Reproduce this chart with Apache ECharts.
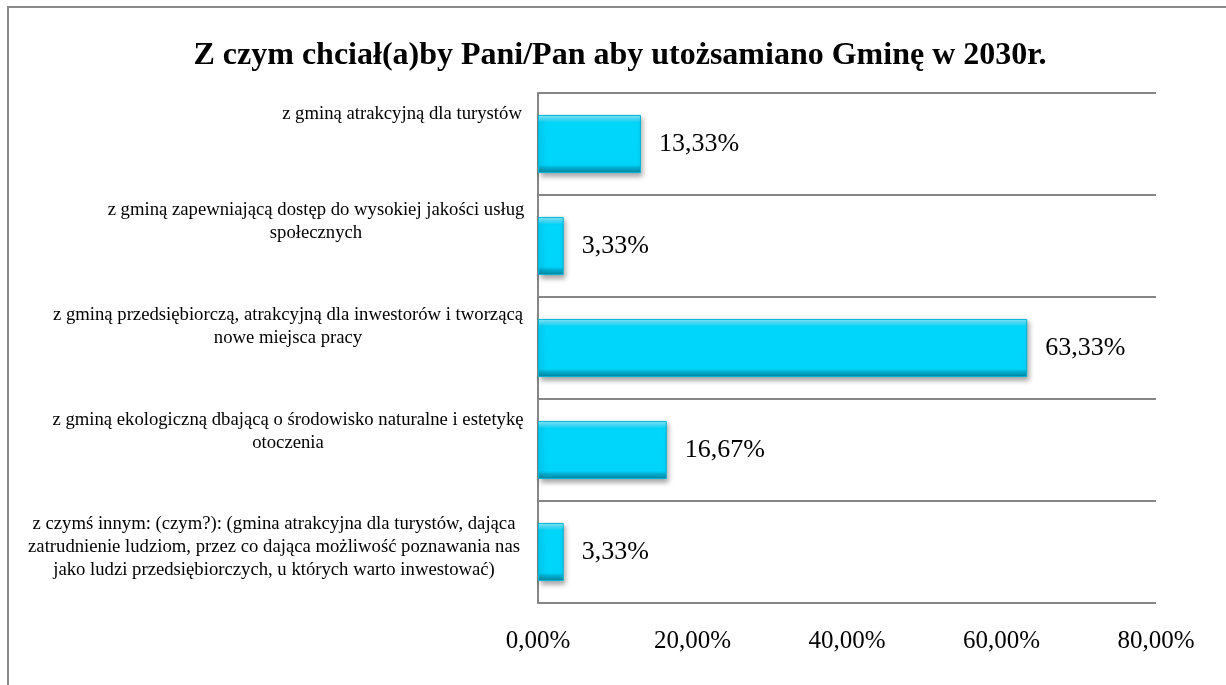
<!DOCTYPE html>
<html><head><meta charset="utf-8">
<script src="https://cdn.jsdelivr.net/npm/echarts@6/dist/echarts.min.js"></script>
<style>html,body{margin:0;padding:0;background:#fff}#c{width:1226px;height:685px}</style>
</head><body><div id="c"></div>
<script>
var titleText = 'Z czym chciał(a)by Pani/Pan aby utożsamiano Gminę w 2030r.';
var categories = [
  'z gminą atrakcyjną dla turystów',
  'z gminą zapewniającą dostęp do wysokiej jakości usług\nspołecznych',
  'z gminą przedsiębiorczą, atrakcyjną dla inwestorów i tworzącą\nnowe miejsca pracy',
  'z gminą ekologiczną dbającą o środowisko naturalne i estetykę\notoczenia',
  'z czymś innym: (czym?): (gmina atrakcyjna dla turystów, dająca\nzatrudnienie ludziom, przez co dająca możliwość poznawania nas\njako ludzi przedsiębiorczych, u których warto inwestować)'
];
var values = [13.33, 3.33, 63.33, 16.67, 3.33];
var xTicks = [0, 20, 40, 60, 80];

var font = '"Liberation Serif","Times New Roman",serif';
// horizontal shift of each wrapped label (right padding) and the spacer that lifts it
var labelRightPad = [0, 172, 228, 228, 256];
var labelLift = [60, 48, 43, 37, 10];
var catData = categories.map(function(c,i){ return {value:c, textStyle:{align:'center', padding:[0,labelRightPad[i],0,0]}}; });
var richSp = {};
labelLift.forEach(function(h,i){ richSp['sp'+i] = {height:h, lineHeight:h, fontSize:1}; });
function pct(v){ return v.toFixed(2).replace('.', ',') + '%'; }

var chart = echarts.init(document.getElementById('c'));
chart.setOption({
  animation:false,
  backgroundColor:'#fff',
  title:{text:titleText, left:615, top:35, textAlign:'center',
    textStyle:{fontFamily:font, fontSize:32, fontWeight:'bold', color:'#000'}},
  graphic:[{type:'rect', shape:{x:8,y:7,width:1400,height:900}, style:{fill:'none', stroke:'#8a8a8a', lineWidth:2}, silent:true}],
  grid:{left:538, right:70, top:93, bottom:82, containLabel:false, outerBoundsMode:'none'},
  xAxis:{type:'value', min:xTicks[0], max:xTicks[xTicks.length-1], interval:20,
    axisLine:{show:false}, axisTick:{show:false}, splitLine:{show:false},
    axisLabel:{formatter:function(v){return pct(v);}, fontFamily:font, fontSize:25, color:'#000', margin:26}},
  yAxis:{type:'category', inverse:true, data:catData,
    axisLine:{show:true, lineStyle:{color:'#868686', width:2}}, axisTick:{show:false},
    splitLine:{show:true, lineStyle:{color:'#868686', width:2}},
    axisLabel:{fontFamily:font, fontSize:18.7, color:'#000', align:'center', margin:136, lineHeight:23, interval:0,
      formatter:function(v,i){ return v + '\n{sp' + i + '| }'; }, rich:richSp}},
  series:[{type:'bar', data:values, barWidth:'57%',
    itemStyle:{
      color:{type:'linear', x:0, y:0, x2:0, y2:1, colorStops:[
        {offset:0, color:'#8beeff'},{offset:0.08, color:'#3fe0ff'},{offset:0.13, color:'#00d7fc'},
        {offset:0.86, color:'#00d4fa'},{offset:0.91, color:'#00aed0'},{offset:1, color:'#00849f'}]},
      borderColor:'#00b5d6', borderWidth:1,
      shadowColor:'rgba(0,0,0,0.35)', shadowBlur:5, shadowOffsetX:2, shadowOffsetY:3},
    label:{show:true, position:'right', distance:18, formatter:function(p){return pct(p.value);},
      fontFamily:font, fontSize:26, color:'#000'}
  }]
});
</script></body></html>
